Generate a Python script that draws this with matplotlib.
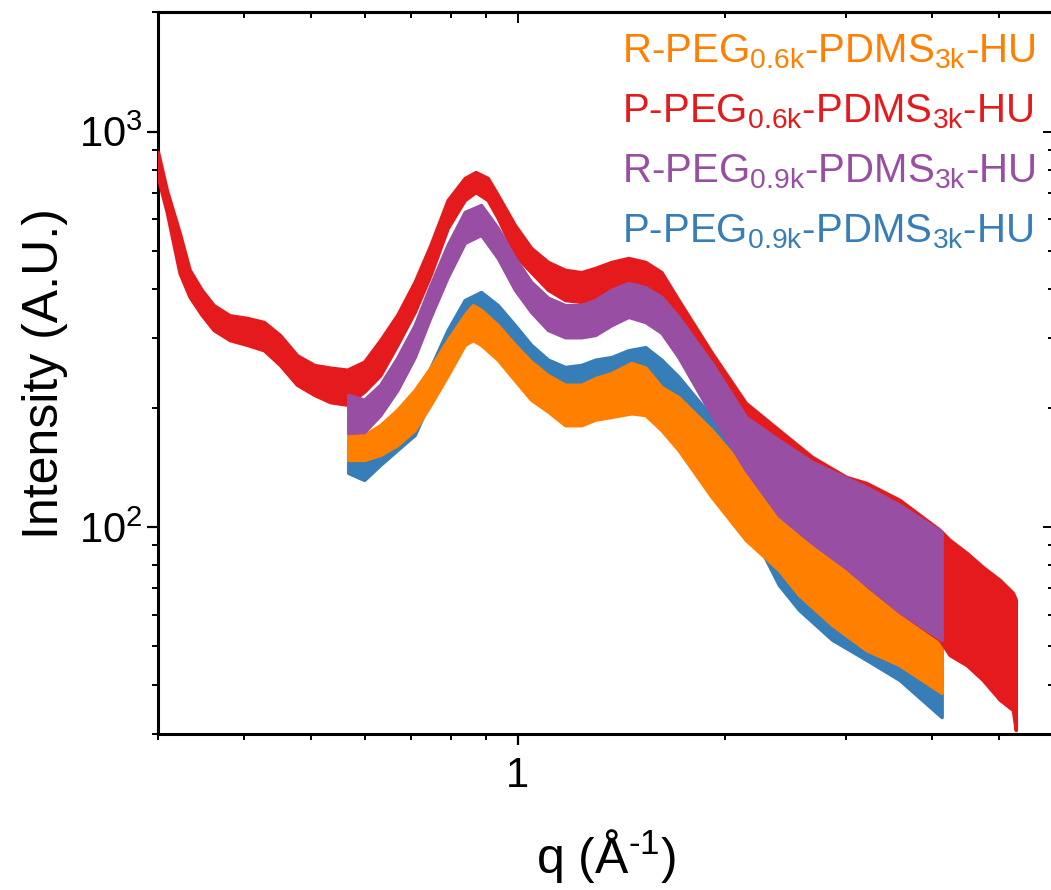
import matplotlib
matplotlib.use('Agg')
import matplotlib.pyplot as plt
from matplotlib.ticker import FixedLocator, FuncFormatter, NullFormatter, LogLocator

plt.rcParams['font.family'] = ['Liberation Sans', 'DejaVu Sans']
plt.rcParams['mathtext.fontset'] = 'custom'
plt.rcParams['mathtext.rm'] = 'Liberation Sans'
plt.rcParams['mathtext.default'] = 'regular'

# SAXS intensity bands (lower / upper edge of the noisy trace), q in 1/Angstrom
q_p06 = [0.30, 0.309, 0.3225, 0.3335, 0.3472, 0.3614, 0.3815, 0.4039, 0.4276, 0.4511,
         0.4776, 0.5058, 0.5337, 0.565, 0.598, 0.631, 0.668, 0.708, 0.7465, 0.7906,
         0.837, 0.868, 0.904, 0.935, 0.990, 1.045, 1.106, 1.171, 1.236, 1.295,
         1.367, 1.447, 1.532, 1.616, 1.711, 1.912, 2.143, 2.394, 2.675, 2.999,
         3.207, 3.583, 4.099, 4.238, 4.486, 4.734, 5.012, 5.236, 5.287]
hi_p06 = [888, 711, 555, 447, 398, 364, 343, 338, 330, 306,
          272, 257, 253, 250, 262, 297, 344, 417, 517, 671,
          763, 790, 763, 691, 580, 508, 468, 447, 441, 452,
          468, 479, 468, 441, 375, 276, 206, 176, 150.5, 133.9,
          129.3, 117.2, 98.4, 92.8, 86.1, 79.3, 73.5, 68.2, 65.5]
lo_p06 = [763, 626, 439, 382, 344, 315, 297, 289, 280, 257,
          229, 216, 207, 204, 220, 242, 289, 350, 434, 570,
          671, 703, 671, 604, 487, 441, 398, 375, 371, 380,
          393, 386, 380, 344, 297, 210, 148, 110.5, 92.8, 80.3,
          71.4, 61.1, 51.9, 47.5, 44.8, 41.1, 36.6, 34.5, 30.7]

q_r09 = [0.567, 0.598, 0.631, 0.668, 0.708, 0.7465, 0.7906, 0.837, 0.884, 0.935,
         0.990, 1.045, 1.106, 1.171, 1.236, 1.295, 1.367, 1.447, 1.532, 1.616,
         1.711, 1.912, 2.143, 2.394, 2.675, 2.999, 3.207, 3.583, 4.126]
hi_r09 = [216, 210, 229, 268, 324, 409, 517, 626, 652, 570,
          479, 417, 380, 364, 364, 375, 398, 414, 404, 382,
          340, 260, 190, 166, 146.2, 133.1, 126.3, 113.8, 97.2]
lo_r09 = [173, 174, 192, 222, 269, 340, 429, 523, 548, 479,
          398, 350, 315, 302, 302, 306, 324, 340, 330, 310,
          269, 192, 139.5, 107, 91.2, 78.8, 71.4, 61.1, 51.9]

q_r06 = [0.567, 0.598, 0.631, 0.668, 0.708, 0.7465, 0.7906, 0.837, 0.860, 0.884,
         0.935, 0.990, 1.045, 1.106, 1.171, 1.236, 1.295, 1.367, 1.462, 1.532,
         1.616, 1.711, 1.912, 2.143, 2.394, 2.560, 2.861, 3.207, 3.583, 4.126]
hi_r06 = [174.7, 171, 181, 198, 222, 253, 297, 344, 364, 354,
          324, 289, 262, 242, 229, 229, 238, 245, 260, 253,
          226, 213, 176, 139.5, 119.2, 102.5, 91.2, 79.3, 70.6, 60.7]
lo_r06 = [147.9, 147.9, 152.2, 161.3, 176, 204, 242, 289, 297, 289,
          265, 235, 210, 196, 181, 181, 187, 190, 194, 192,
          176, 156.7, 119.2, 92.8, 77.9, 67.4, 56.6, 48.9, 44.8, 38.1]

q_p09 = [0.567, 0.598, 0.631, 0.668, 0.708, 0.7465, 0.7906, 0.837, 0.884, 0.935,
         0.990, 1.045, 1.106, 1.171, 1.236, 1.295, 1.367, 1.447, 1.532, 1.616,
         1.711, 1.912, 2.143, 2.394, 2.560, 2.861, 3.207, 3.583, 4.126]
hi_p09 = [163, 161.3, 171, 187, 210, 253, 315, 375, 393, 364,
          324, 289, 265, 254, 257, 265, 269, 280, 285, 265,
          240, 190, 145.3, 119.2, 102.5, 91.2, 79.3, 70.6, 60.7]
lo_p09 = [137.1, 131.6, 143.7, 156.7, 171, 210, 265, 315, 334, 306,
          272, 247, 229, 222, 220, 225, 231, 229, 222, 210,
          190, 152, 104.3, 71.4, 61.8, 51.9, 46.2, 41.1, 33.1]

labels = [r'R-PEG$_{0.6k}$-PDMS$_{3k}$-HU', r'P-PEG$_{0.6k}$-PDMS$_{3k}$-HU',
          r'R-PEG$_{0.9k}$-PDMS$_{3k}$-HU', r'P-PEG$_{0.9k}$-PDMS$_{3k}$-HU']
colors = ['#FF7F00', '#E41A1C', '#984EA3', '#377EB8']

fig = plt.figure(figsize=(10.51, 8.9), dpi=100)
ax = fig.add_axes([0.1503, 0.1753, 0.8522, 0.8107])
ax.set_xscale('log')
ax.set_yscale('log')

# draw order: blue under orange, purple on top of red
series = [(q_p09, lo_p09, hi_p09, colors[3], 1),
          (q_r06, lo_r06, hi_r06, colors[0], 2),
          (q_p06, lo_p06, hi_p06, colors[1], 3),
          (q_r09, lo_r09, hi_r09, colors[2], 4)]
for q, lo, hi, c, z in series:
    ax.fill_between(q, lo, hi, facecolor=c, edgecolor=c, linewidth=2.5, zorder=z)

ax.set_xlim(0.3, 6)
ax.set_ylim(30, 2000)

ax.xaxis.set_major_locator(FixedLocator([1]))
ax.xaxis.set_major_formatter(FuncFormatter(lambda v, p: '1'))
ax.xaxis.set_minor_locator(LogLocator(base=10, subs=range(2, 10)))
ax.xaxis.set_minor_formatter(NullFormatter())
ax.yaxis.set_major_locator(LogLocator(base=10))
ax.yaxis.set_minor_locator(LogLocator(base=10, subs=range(2, 10)))
ax.yaxis.set_minor_formatter(NullFormatter())

for s in ax.spines.values():
    s.set_linewidth(2.2)
ax.tick_params(which='major', direction='out', length=8, width=1.6, labelsize=30)
ax.tick_params(which='minor', direction='out', length=4.5, width=1.4)
ax.tick_params(axis='x', which='major', pad=8)
ax.tick_params(axis='y', which='major', pad=3)

# mirrored inward ticks on top and right
top = ax.secondary_xaxis('top')
top.xaxis.set_major_locator(FixedLocator([1]))
top.xaxis.set_minor_locator(LogLocator(base=10, subs=range(2, 10)))
top.tick_params(which='both', direction='in', labeltop=False, width=1.4)
top.tick_params(which='major', length=8)
top.tick_params(which='minor', length=4.5)
top.spines['top'].set_linewidth(2.2)

right = ax.secondary_yaxis('right')
right.yaxis.set_major_locator(LogLocator(base=10))
right.yaxis.set_minor_locator(LogLocator(base=10, subs=range(2, 10)))
right.tick_params(which='both', direction='in', labelright=False, width=1.4)
right.tick_params(which='major', length=8)
right.tick_params(which='minor', length=4.5)

ax.set_xlabel(r'q (Å$^{\text{-1}}$)', fontsize=36, labelpad=22)
ax.set_ylabel('Intensity (A.U.)', fontsize=36, labelpad=8)

ys = [0.9314, 0.8482, 0.7651, 0.6819]
for lab, c, y in zip(labels, colors, ys):
    ax.text(0.518, y, lab, color=c, fontsize=29, transform=ax.transAxes,
            ha='left', va='baseline', zorder=6)

fig.savefig('out.png', dpi=100)
